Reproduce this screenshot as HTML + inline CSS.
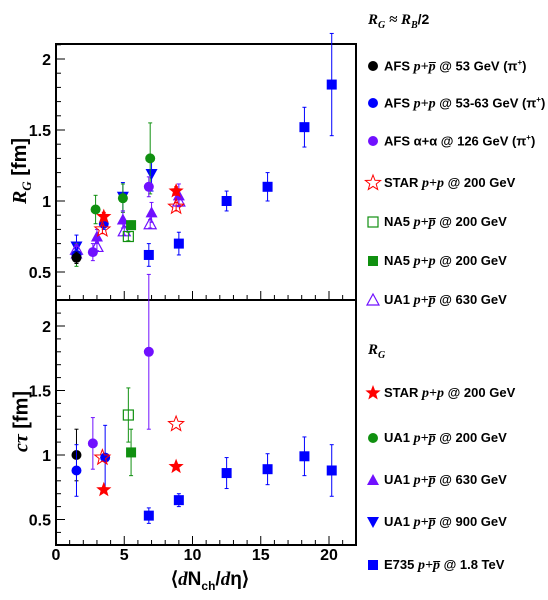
<!DOCTYPE html>
<html><head><meta charset="utf-8"><style>
body{margin:0;background:#fff;width:548px;height:600px;overflow:hidden;font-family:"Liberation Sans",sans-serif}
svg{display:block}
.lg{font:bold 13px "Liberation Sans",sans-serif}
.it{font-style:italic;font-weight:bold;font-family:"Liberation Serif",serif;font-size:14px}
</style></head><body>
<svg id="c" width="548" height="600"></svg>
<script>
const xTicks=[0,5,10,15,20];
const topTicks=[0.5,1,1.5,2];
const botTicks=[0.5,1,1.5,2];
// series: [x, y, err]
const afsPPbarTop=[[1.5,0.60,0.04]];
const afsPPTop=[[1.5,0.62,0.04],[3.5,0.84,0.04]];
const afsAATop=[[2.7,0.64,0.06],[6.8,1.10,0.07]];
const starOpenTop=[[3.4,0.80,0.03],[8.8,0.96,0.03]];
const na5OpenTop=[[5.3,0.75,0.03]];
const na5FillTop=[[5.5,0.83,0.03]];
const ua1OpenTop=[[1.5,0.66,0.03],[3.0,0.68,0.03],[5.0,0.79,0.03],[6.9,0.84,0.03],[9.0,1.0,0.03]];
const starFillTop=[[3.5,0.89,0.03],[8.8,1.07,0.03]];
const ua1_200Top=[[1.5,0.62,0.08],[2.9,0.94,0.1],[4.9,1.02,0.1],[6.9,1.30,0.25]];
const ua1_630Top=[[1.5,0.63,0.05],[3.0,0.75,0.05],[4.9,0.87,0.06],[7.0,0.92,0.07],[9.0,1.04,0.08]];
const ua1_900Top=[[1.5,0.68,0.08],[4.9,1.03,0.1],[7.0,1.19,0.12]];
const e735Top=[[6.8,0.62,0.08],[9.0,0.70,0.08],[12.5,1.0,0.07],[15.5,1.1,0.1],[18.2,1.52,0.14],[20.2,1.82,0.36]];
const afsPPbarBot=[[1.5,1.0,0.2]];
const afsPPBot=[[1.5,0.88,0.2],[3.6,0.98,0.25]];
const afsAABot=[[2.7,1.09,0.2],[6.8,1.80,0.6]];
const na5OpenBot=[[5.3,1.31,0.21]];
const na5FillBot=[[5.5,1.02,0.18]];
const starOpenBot=[[3.4,0.98,0],[8.8,1.24,0]];
const starFillBot=[[3.5,0.73,0],[8.8,0.91,0]];
const e735Bot=[[6.8,0.53,0.06],[9.0,0.65,0.05],[12.5,0.86,0.12],[15.5,0.89,0.12],[18.2,0.99,0.15],[20.2,0.88,0.2]];

const BLUE="#0000ff",PUR="#7010ff",GRN="#109010",RED="#ff0000",BLK="#000";
const X0=56,X1=356;
const xs=v=>X0+v*13.65;
const yTop=v=>201-(v-1)*142;
const yBot=v=>455-(v-1)*129;
const svg=document.getElementById('c');
const NS="http://www.w3.org/2000/svg";
function el(t,a,p){const e=document.createElementNS(NS,t);for(const k in a)e.setAttribute(k,a[k]);(p||svg).appendChild(e);return e;}
function starPts(cx,cy,R){let p=[];for(let i=0;i<10;i++){const r=i%2?R*0.42:R;const a=-Math.PI/2+i*Math.PI/5;p.push((cx+r*Math.cos(a)).toFixed(1)+","+(cy+r*Math.sin(a)).toFixed(1));}return p.join(" ");}
function marker(g,type,col,open,cx,cy){
 const sw=open?1.2:0,fo=open?"none":col;
 if(type==="circle")el("circle",{cx,cy,r:5,fill:col},g);
 else if(type==="square")el("rect",{x:cx-5,y:cy-5,width:10,height:10,fill:fo,stroke:col,"stroke-width":open?1.2:0},g);
 else if(type==="tri")el("polygon",{points:`${cx},${cy-6} ${cx+6},${cy+5} ${cx-6},${cy+5}`,fill:fo,stroke:col,"stroke-width":sw},g);
 else if(type==="tridown")el("polygon",{points:`${cx},${cy+6} ${cx+6},${cy-5} ${cx-6},${cy-5}`,fill:fo,stroke:col,"stroke-width":sw},g);
 else if(type==="star")el("polygon",{points:starPts(cx,cy,8),fill:fo,stroke:col,"stroke-width":open?1:0},g);
}
function series(data,ys,type,col,open,name){
 const g=el("g",{});
 
 
 data.forEach(d=>{
  const cx=xs(d[0]),cy=ys(d[1]);
  if(d[2]>0){const y1=ys(d[1]+d[2]),y2=ys(d[1]-d[2]);
   el("line",{x1:cx,x2:cx,y1,y2,stroke:col,"stroke-width":1},g);
   el("line",{x1:cx-2,x2:cx+2,y1,y2:y1,stroke:col,"stroke-width":1},g);
   el("line",{x1:cx-2,x2:cx+2,y1:y2,y2,stroke:col,"stroke-width":1},g);}
  marker(g,type,col,open,cx,cy);
 });
}
function panel(yt,yb,ys,ticks,lo,hi,name){
 const g=el("g",{});
 
 
 for(let v=Math.ceil(lo*10)/10;v<=hi+1e-6;v+=0.1){const y=ys(v);const maj=Math.abs(v*2-Math.round(v*2))<1e-6;
  el("line",{x1:X0,x2:X0+(maj?9:5),y1:y,y2:y,stroke:"#000"},g);}
 ticks.forEach(t=>{const tx=el("text",{x:X0-5,y:ys(t)+6,"text-anchor":"end","font-size":"16","font-weight":"bold","font-family":"Liberation Sans"},g);tx.textContent=String(t);});
 for(let v=0;v<=22;v++){const x=xs(v);const maj=v%5===0;
  el("line",{x1:x,x2:x,y1:yb,y2:yb-(maj?9:5),stroke:"#000"},g);}
 el("rect",{x:X0,y:yt,width:X1-X0,height:yb-yt,fill:"none",stroke:"#000","stroke-width":2},g);
}
panel(44,300,yTop,topTicks,0.3,2.1,"top-panel");
panel(300,545,yBot,botTicks,0.3,2.2,"bottom-panel");
xTicks.forEach(t=>{const tx=el("text",{x:xs(t),y:560,"text-anchor":"middle","font-size":"16","font-weight":"bold","font-family":"Liberation Sans"});


tx.textContent=String(t);});

series(e735Top,yTop,"square",BLUE,false,"e735-top");
series(ua1_900Top,yTop,"tridown",BLUE,false,"ua1-900-top");
series(ua1_200Top,yTop,"circle",GRN,false,"ua1-200-top");
series(ua1_630Top,yTop,"tri",PUR,false,"ua1-630-top");
series(ua1OpenTop,yTop,"tri",PUR,true,"ua1-open-top");
series(na5OpenTop,yTop,"square",GRN,true,"na5-open-top");
series(na5FillTop,yTop,"square",GRN,false,"na5-fill-top");
series(afsAATop,yTop,"circle",PUR,false,"afs-aa-top");
series(afsPPTop,yTop,"circle",BLUE,false,"afs-pp-top");
series(afsPPbarTop,yTop,"circle",BLK,false,"afs-ppbar-top");
series(starOpenTop,yTop,"star",RED,true,"star-open-top");
series(starFillTop,yTop,"star",RED,false,"star-fill-top");

series(e735Bot,yBot,"square",BLUE,false,"e735-bottom");
series(afsAABot,yBot,"circle",PUR,false,"afs-aa-bottom");
series(afsPPbarBot,yBot,"circle",BLK,false,"afs-ppbar-bottom");
series(afsPPBot,yBot,"circle",BLUE,false,"afs-pp-bottom");
series(na5OpenBot,yBot,"square",GRN,true,"na5-open-bottom");
series(na5FillBot,yBot,"square",GRN,false,"na5-fill-bottom");
series(starOpenBot,yBot,"star",RED,true,"star-open-bottom");
series(starFillBot,yBot,"star",RED,false,"star-fill-bottom");

const leg=[[66,"circle",BLK,false],[103,"circle",BLUE,false],[141,"circle",PUR,false],[183,"star",RED,true],[222,"square",GRN,true],[261,"square",GRN,false],[300,"tri",PUR,true],
[393,"star",RED,false],[438,"circle",GRN,false],[480,"tri",PUR,false],[522,"tridown",BLUE,false],[565,"square",BLUE,false]];
leg.forEach(l=>{const g=el("g",{});


marker(g,l[1],l[2],l[3],373,l[0]);});
</script>
<div style="position:absolute;left:0;top:0;width:548px;height:600px;pointer-events:none">
<div style="position:absolute;left:-18px;top:158px;width:80px;transform:rotate(-90deg);text-align:center;font:bold 20px 'Liberation Sans',sans-serif"><i style="font-family:'Liberation Serif'">R<sub style="font-size:13px">G</sub></i> [fm]</div>
<div style="position:absolute;left:-18px;top:410px;width:80px;transform:rotate(-90deg);text-align:center;font:bold 20px 'Liberation Sans',sans-serif"><i style="font-family:'Liberation Serif'">cτ</i> [fm]</div>
<div style="position:absolute;left:130px;top:568px;width:160px;text-align:center;font:bold 19px 'Liberation Sans',sans-serif">⟨<i style="font-family:'Liberation Serif'">d</i>N<sub style="font-size:12px">ch</sub>/<i style="font-family:'Liberation Serif'">d</i>η⟩</div>
<div class="lg" style="position:absolute;left:368px;top:11px;font-size:14px"><span class="it" style="font-size:15px">R<sub style="font-size:10px">G</sub> ≈ R<sub style="font-size:10px">B</sub></span>/2</div>
<div class="lg" style="position:absolute;left:368px;top:342px"><span class="it" style="font-size:15px">R<sub style="font-size:10px">G</sub></span></div>
<div class="lg" style="position:absolute;left:384px;top:58px">AFS <span class="it">p+p̅</span> @ 53 GeV (π<sup style="font-size:8px">+</sup>)</div>
<div class="lg" style="position:absolute;left:384px;top:95px">AFS <span class="it">p+p</span> @ 53-63 GeV (π<sup style="font-size:8px">+</sup>)</div>
<div class="lg" style="position:absolute;left:384px;top:133px">AFS α+α @ 126 GeV (π<sup style="font-size:8px">+</sup>)</div>
<div class="lg" style="position:absolute;left:384px;top:175px">STAR <span class="it">p+p</span> @ 200 GeV</div>
<div class="lg" style="position:absolute;left:384px;top:214px">NA5 <span class="it">p+p̅</span> @ 200 GeV</div>
<div class="lg" style="position:absolute;left:384px;top:253px">NA5 <span class="it">p+p</span> @ 200 GeV</div>
<div class="lg" style="position:absolute;left:384px;top:292px">UA1 <span class="it">p+p̅</span> @ 630 GeV</div>
<div class="lg" style="position:absolute;left:384px;top:385px">STAR <span class="it">p+p</span> @ 200 GeV</div>
<div class="lg" style="position:absolute;left:384px;top:430px">UA1 <span class="it">p+p̅</span> @ 200 GeV</div>
<div class="lg" style="position:absolute;left:384px;top:472px">UA1 <span class="it">p+p̅</span> @ 630 GeV</div>
<div class="lg" style="position:absolute;left:384px;top:514px">UA1 <span class="it">p+p̅</span> @ 900 GeV</div>
<div class="lg" style="position:absolute;left:384px;top:557px">E735 <span class="it">p+p̅</span> @ 1.8 TeV</div>
</div>
</body></html>
